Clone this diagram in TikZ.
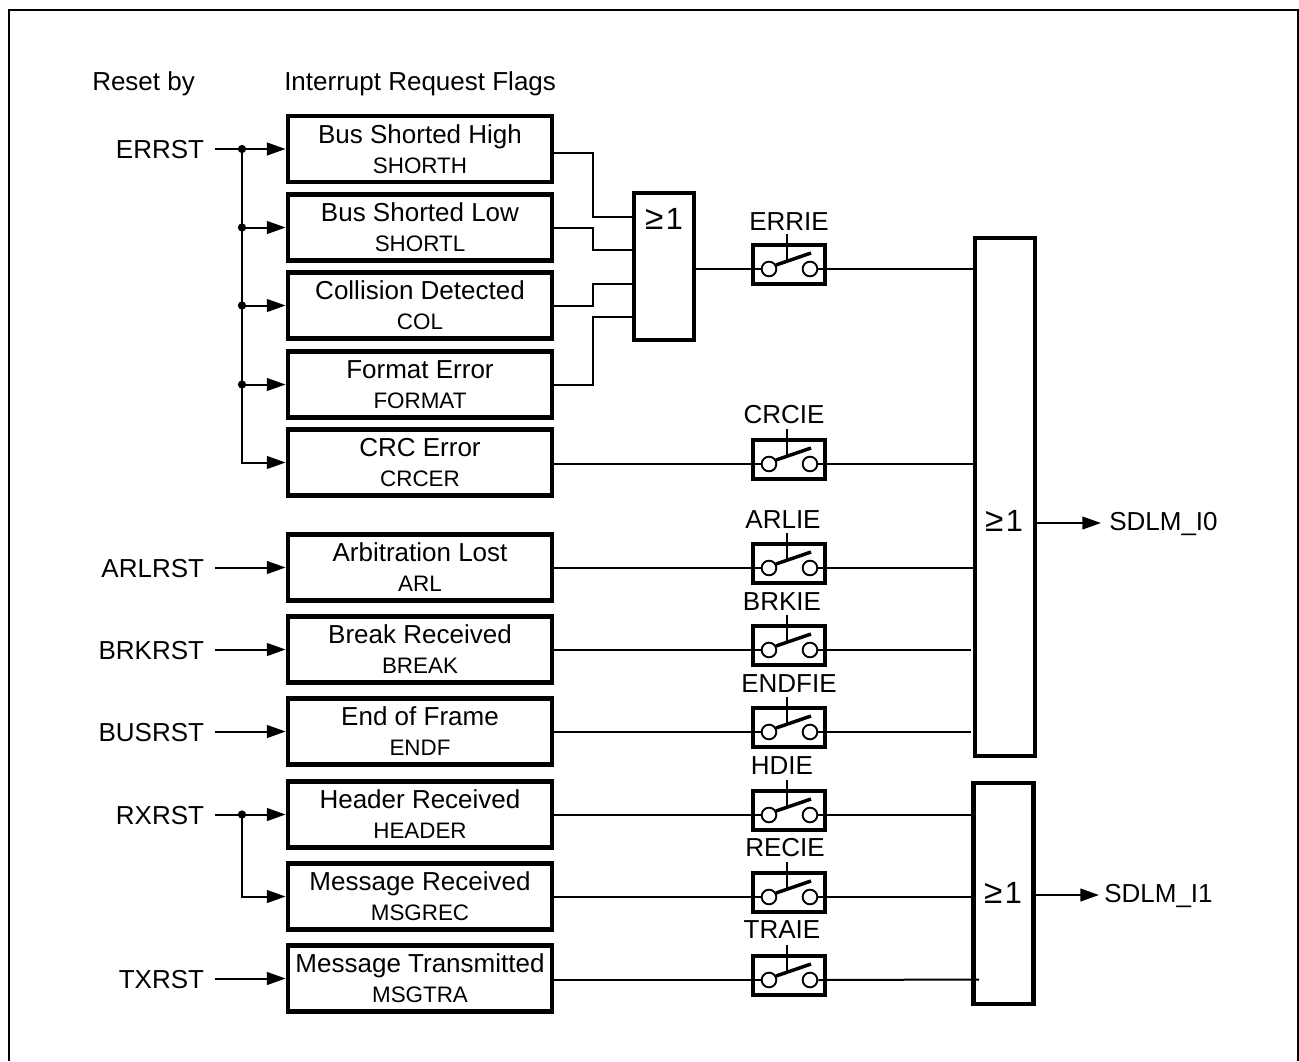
\documentclass[tikz,border=0pt]{standalone}
\usepackage{fontspec}
\setmainfont{Liberation Sans}
\usepackage{tikz}
\usetikzlibrary{arrows.meta, calc}
\newcommand{\titlefont}{\fontsize{19.5}{22.5}\selectfont}
\newcommand{\subfont}{\fontsize{16.8}{22.5}\selectfont}
\newcommand{\orsym}{{\fontsize{25}{25}\selectfont ≥}\kern2pt 1}
\tikzset{
  flagbox/.style={rectangle, draw, line width=3.2pt, minimum width=198.4pt,
    minimum height=49.5pt, align=center, inner sep=0pt, font=\titlefont},
  gatebox/.style={rectangle, draw, line width=3.2pt, minimum width=45pt},
  gatesym/.style={inner sep=0pt, font=\fontsize{23}{23}\selectfont},
  sig/.style={anchor=east, inner ysep=0pt, inner xsep=8pt, font=\titlefont},
  heading/.style={anchor=west, inner sep=0pt, font=\titlefont},
  swbox/.style={rectangle, draw, line width=3.2pt, minimum width=54pt, minimum height=29pt},
  swlabel/.style={inner sep=0pt, font=\titlefont},
  swpin/.style={circle, draw, fill=white, line width=1.4pt, minimum size=11pt, inner sep=0pt},
  dot/.style={circle, fill=black, minimum size=6.2pt, inner sep=0pt},
  wire/.style={line width=1.5pt},
  arrow/.style={-{Triangle[length=14pt, width=9.5pt]}, line width=1.5pt}
}
% switch contents: pins, lever and control stem
\newcommand{\swparts}[1]{
  \node[swpin] (#1L) at ($(#1)+(-20,4.5)$) {};
  \node[swpin] (#1R) at ($(#1)+(21,4.5)$) {};
  \draw[line width=2.6pt] ($(#1)+(-13,0.5)$) -- ($(#1)+(22,-11.5)$);
  \draw[wire] ($(#1)+(-2,-30.5)$) -- ($(#1)+(-2,-5)$);
}
\begin{document}
\begin{tikzpicture}[x=0.75pt, y=-0.75pt]
  \useasboundingbox (0,0) rectangle (1299,1061);
  % Frame, open at the bottom
  \draw[line width=2.2pt] (9,1061) -- (9,10) -- (1298,10) -- (1298,1061);

  % Headings
  \node[heading] (resetby) at (92,84) {Reset by};
  \node[heading] (irqflags) at (284,84) {Interrupt Request Flags};

  % Flag boxes
  \node[flagbox] (shorth) at (420,149) {Bus Shorted High\\{\subfont SHORTH}};
  \node[flagbox] (shortl) at (420,227.5) {Bus Shorted Low\\{\subfont SHORTL}};
  \node[flagbox] (col) at (420,305.5) {Collision Detected\\{\subfont COL}};
  \node[flagbox] (format) at (420,384.5) {Format Error\\{\subfont FORMAT}};
  \node[flagbox] (crcer) at (420,462.5) {CRC Error\\{\subfont CRCER}};
  \node[flagbox] (arl) at (420,567.5) {Arbitration Lost\\{\subfont ARL}};
  \node[flagbox] (break) at (420,649.5) {Break Received\\{\subfont BREAK}};
  \node[flagbox] (endf) at (420,731.5) {End of Frame\\{\subfont ENDF}};
  \node[flagbox] (header) at (420,814.5) {Header Received\\{\subfont HEADER}};
  \node[flagbox] (msgrec) at (420,896.5) {Message Received\\{\subfont MSGREC}};
  \node[flagbox] (msgtra) at (420,978.5) {Message Transmitted\\{\subfont MSGTRA}};

  % Reset signals
  \node[sig] (errst) at (215,150) {ERRST};
  \node[sig] (arlrst) at (215,568.5) {ARLRST};
  \node[sig] (brkrst) at (215,650.5) {BRKRST};
  \node[sig] (busrst) at (215,732.5) {BUSRST};
  \node[sig] (rxrst) at (215,815.5) {RXRST};
  \node[sig] (txrst) at (215,979.5) {TXRST};

  \node[dot] (dota) at (242,149) {};
  \node[dot] (dotb) at (242,227.5) {};
  \node[dot] (dotc) at (242,305.5) {};
  \node[dot] (dotd) at (242,384.5) {};
  \node[dot] (dote) at (242,814.5) {};

  \draw[arrow] (errst.east |- shorth.west) -- (shorth.west);
  \draw[arrow] (dotb.center) -- (shortl.west);
  \draw[arrow] (dotc.center) -- (col.west);
  \draw[arrow] (dotd.center) -- (format.west);
  \draw[arrow] (dota.center) |- (crcer.west);
  \draw[arrow] (arlrst.east |- arl.west) -- (arl.west);
  \draw[arrow] (brkrst.east |- break.west) -- (break.west);
  \draw[arrow] (busrst.east |- endf.west) -- (endf.west);
  \draw[arrow] (rxrst.east |- header.west) -- (header.west);
  \draw[arrow] (dote.center) |- (msgrec.west);
  \draw[arrow] (txrst.east |- msgtra.west) -- (msgtra.west);

  % First OR gate
  \node[gatebox, minimum height=110pt] (orerr) at (664,266.5) {};
  \node[gatesym] (orerrsym) at (664,219) {\orsym};
  \draw[wire] (shorth.east |- 0,153) -- (593,153) -- (593,217) -- (orerr.west |- 0,217);
  \draw[wire] (shortl.east) -- (593,227.5) -- (593,250) -- (orerr.west |- 0,250);
  \draw[wire] (col.east) -- (593,305.5) -- (593,284) -- (orerr.west |- 0,284);
  \draw[wire] (format.east) -- (593,384.5) -- (593,317) -- (orerr.west |- 0,317);

  % Output OR gates
  \node[gatebox, minimum height=388.5pt] (orzero) at (1005,497) {};
  \node[gatesym] (orzerosym) at (1004,521) {\orsym};
  \node[gatebox, minimum height=165.75pt] (orone) at (1003.5,893.5) {};
  \node[gatesym] (oronesym) at (1003,893) {\orsym};

  % Enable switches
  \node[swbox] (errie) at (789,264.5) {};
  \node[swbox] (crcie) at (789,459.5) {};
  \node[swbox] (arlie) at (789,563.5) {};
  \node[swbox] (brkie) at (789,645.5) {};
  \node[swbox] (endfie) at (789,727.5) {};
  \node[swbox] (hdie) at (789,810.5) {};
  \node[swbox] (recie) at (789,892.5) {};
  \node[swbox] (traie) at (789,975.5) {};
  \swparts{errie}
  \swparts{crcie}
  \swparts{arlie}
  \swparts{brkie}
  \swparts{endfie}
  \swparts{hdie}
  \swparts{recie}
  \swparts{traie}

  \node[swlabel] (errielbl) at (789,222) {ERRIE};
  \node[swlabel] (crcielbl) at (784,415) {CRCIE};
  \node[swlabel] (arlielbl) at (783,520) {ARLIE};
  \node[swlabel] (brkielbl) at (782,602) {BRKIE};
  \node[swlabel] (endfielbl) at (789,684) {ENDFIE};
  \node[swlabel] (hdielbl) at (782,766) {HDIE};
  \node[swlabel] (recielbl) at (785,848) {RECIE};
  \node[swlabel] (traielbl) at (782,930) {TRAIE};

  % Wires through the switches
  \draw[wire] (orerr.east |- errieL.west) -- (errieL.west);
  \draw[wire] (errieR.east) -- (orzero.west |- errieR.east);
  \draw[wire] (crcer.east |- crcieL.west) -- (crcieL.west);
  \draw[wire] (crcieR.east) -- (orzero.west |- crcieR.east);
  \draw[wire] (arl.east |- arlieL.west) -- (arlieL.west);
  \draw[wire] (arlieR.east) -- (orzero.west |- arlieR.east);
  \draw[wire] (break.east |- brkieL.west) -- (brkieL.west);
  \draw[wire] (brkieR.east) -- (971,650);
  \draw[wire] (endf.east |- endfieL.west) -- (endfieL.west);
  \draw[wire] (endfieR.east) -- (971,732);
  \draw[wire] (header.east |- hdieL.west) -- (hdieL.west);
  \draw[wire] (hdieR.east) -- (orone.west |- hdieR.east);
  \draw[wire] (msgrec.east |- recieL.west) -- (recieL.west);
  \draw[wire] (recieR.east) -- (orone.west |- recieR.east);
  \draw[wire] (msgtra.east |- traieL.west) -- (traieL.west);
  \draw[wire] (traieR.east) -- (979,979.5);

  % Outputs
  \node[anchor=west, inner sep=0pt, font=\titlefont] (sdlmzero) at (1109,524) {SDLM\_I0};
  \node[anchor=west, inner sep=0pt, font=\titlefont] (sdlmone) at (1104,896) {SDLM\_I1};
  \draw[arrow] (orzero.east |- 0,523) -- (1101,523);
  \draw[arrow] (orone.east |- 0,895) -- (1099,895);
\end{tikzpicture}
\end{document}
